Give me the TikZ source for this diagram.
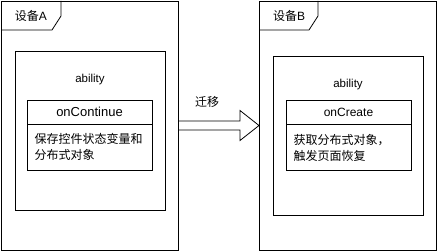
\documentclass[tikz,border=0pt]{standalone}
\usepackage{fontspec}
\setmainfont{Liberation Sans}
\newfontfamily\cjk{Noto Sans CJK SC}
\usetikzlibrary{positioning,calc}

\begin{document}
\begin{tikzpicture}[x=1pt, y=-1pt,
    device/.style={draw, line width=0.8pt, inner sep=0pt, outer sep=0pt,
      minimum width=177pt, minimum height=249pt},
    abilbox/.style={draw, line width=0.8pt, inner sep=0pt, outer sep=0pt,
      minimum width=150pt, minimum height=159pt},
    head/.style={draw, line width=0.8pt, inner sep=0pt, outer sep=0pt,
      minimum width=125pt, minimum height=24pt},
    body/.style={draw, line width=0.8pt, outer sep=0pt, inner xsep=7.5pt,
      text width=110pt, minimum height=46pt, align=left,
      font=\fontsize{12}{16}\selectfont\cjk},
    tab/.style={line width=0.8pt}]

  \useasboundingbox (0,0) rectangle (439,251);

  % Two devices
  \node[device] (devA) at (89.5,125.5) {};
  \node[device] (devB) at (347.5,125.5) {};

  % Name tabs
  \draw[tab] ($(devA.north west)+(0,29)$) -- ++(51,0) -- ++(9,-14) -- ++(0,-15);
  \node (tabA) at ($(devA.north west)+(30,14.5)$)
    {\fontsize{12}{14}\selectfont{\cjk 设备}A};
  \draw[tab] ($(devB.north west)+(0,29)$) -- ++(50,0) -- ++(9,-14) -- ++(0,-15);
  \node (tabB) at ($(devB.north west)+(30,14.5)$)
    {\fontsize{12}{14}\selectfont{\cjk 设备}B};

  % Ability on device A
  \node[abilbox] (abilA) at (90,130.5) {};
  \node (nameA) at ($(abilA.north)+(0,29)$) {\fontsize{11.5}{13}\selectfont ability};
  \node[head] (headA) at (89.5,112) {\fontsize{13}{15}\selectfont onContinue};
  \node[body, below=0pt of headA] (bodyA) {保存控件状态变量和\\分布式对象};

  % Ability on device B
  \node[abilbox] (abilB) at (348,135.5) {};
  \node (nameB) at ($(abilB.north)+(0,29)$) {\fontsize{11.5}{13}\selectfont ability};
  \node[head] (headB) at (348.5,112.5) {\fontsize{12}{14}\selectfont onCreate};
  \node[body, below=0pt of headB] (bodyB) {获取分布式对象，\\触发页面恢复};

  % Migration arrow
  \draw[line width=0.8pt] ($(devA.east)+(0,-4.5)$)
    -- ($(devB.west)+(-19,-4.5)$) -- ($(devB.west)+(-19,-15)$)
    -- (devB.west)
    -- ($(devB.west)+(-19,15)$) -- ($(devB.west)+(-19,4.5)$)
    -- ($(devA.east)+(0,4.5)$);
  \node (move) at ($(devA.east)!0.36!(devB.west)+(0,-23.5)$)
    {\fontsize{12}{14}\selectfont\cjk 迁移};

\end{tikzpicture}
\end{document}
